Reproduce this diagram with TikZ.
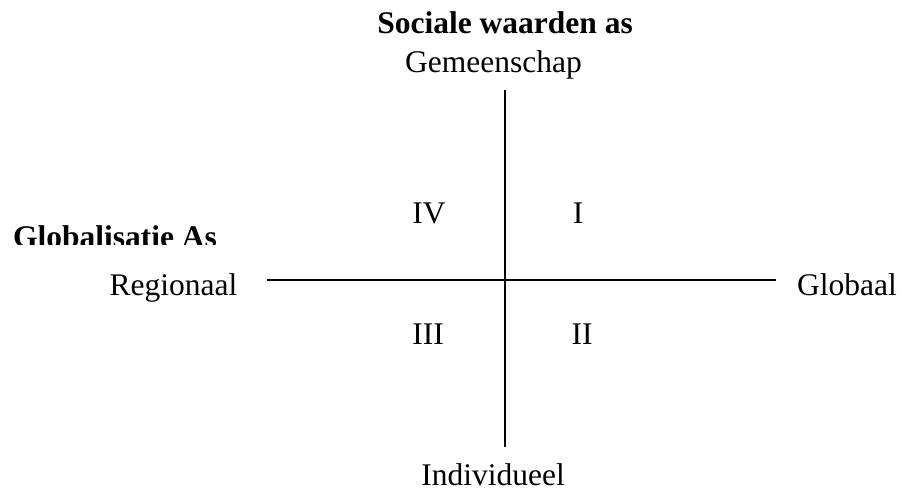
\documentclass[tikz,border=0pt]{standalone}
\usepackage{fontspec}
\setmainfont{Liberation Serif}
\usepackage{tikz}
\usetikzlibrary{positioning,calc}

\tikzset{
  lbl/.style={anchor=base, inner sep=0pt, font=\fontsize{31.5}{36}\selectfont},
  ttl/.style={lbl, font=\fontsize{31.5}{36}\selectfont\bfseries},
  axis/.style={line width=1.5pt}
}

\begin{document}
\begin{tikzpicture}[x=1pt, y=-1pt]
  \useasboundingbox (0,0) rectangle (904,491);

  % Axis end points
  \coordinate (top) at (505, 90);
  \coordinate (bot) at (505, 447);
  \coordinate (lft) at (267, 280);
  \coordinate (rgt) at (776, 280);

  % Axes
  \draw[axis] (top) -- (bot);
  \draw[axis] (lft) -- (rgt);

  % Axis titles
  \node[ttl] (soc) at (505, 33) {Sociale waarden as};
  \begin{scope}
    \clip (0,0) rectangle (904,244.5);
    \node[ttl] (glob) at (115, 247.5) {Globalisatie As};
  \end{scope}

  % Axis ends
  \node[lbl] (gem) at (493.5, 72) {Gemeenschap};
  \node[lbl] (ind) at (493, 485) {Individueel};
  \node[lbl] (reg) at (173.5, 295) {Regionaal};
  \node[lbl] (gbl) at (847, 295) {Globaal};

  % Quadrants
  \node[lbl] (q4) at (429, 223) {IV};
  \node[lbl] (q1) at (578, 223) {I};
  \node[lbl] (q3) at (428, 344) {III};
  \node[lbl] (q2) at (582, 344) {II};
\end{tikzpicture}
\end{document}
